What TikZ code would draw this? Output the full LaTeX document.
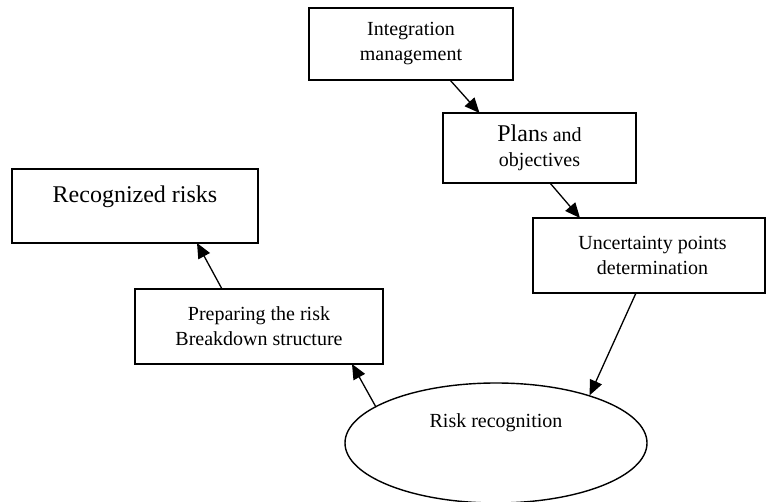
\documentclass[tikz,border=0pt]{standalone}
\usepackage{fontspec}
\setmainfont{Liberation Serif}
\usetikzlibrary{arrows.meta,shapes.geometric}
\begin{document}
\begin{tikzpicture}[x=1pt,y=-1pt,
  box/.style={draw, line width=1.4pt, rectangle, inner sep=0pt, outer sep=0pt,
    align=center, font=\fontsize{20}{25}\selectfont},
  txt/.style={inner sep=0pt, font=\fontsize{20}{25}\selectfont},
  flow/.style={-{Triangle[length=15pt,width=13pt]}, line width=1.3pt},
]
\useasboundingbox (0,0) rectangle (766,502);

% process steps
\node[box, minimum width=204pt, minimum height=72pt] (integ) at (411,44)
  {Integration\\management};
\node[box, minimum width=193pt, minimum height=70pt] (plans) at (539.5,148)
  {{\fontsize{24}{25}\selectfont Plan}s and\\objectives};
\node[box, minimum width=232pt, minimum height=75pt] (uncert) at (649,255.5)
  {\hspace*{7pt}Uncertainty points\\\hspace*{7pt}determination};
\node[draw, ellipse, line width=1.4pt, inner sep=0pt,
  minimum width=302pt, minimum height=120pt] (risk) at (496,443) {};
\node[txt] (risktext) at (496,423) {Risk recognition};
\node[box, minimum width=248pt, minimum height=75pt] (prep) at (259,326.5)
  {Preparing the risk\\Breakdown structure};
\node[box, minimum width=246pt, minimum height=74pt] (recog) at (135,206) {};
\node[txt, font=\fontsize{24}{28}\selectfont] (recogtext) at (135,197) {Recognized risks};

% flow of the process
\draw[flow] ([xshift=39pt]integ.south) -- ([xshift=-60pt]plans.north);
\draw[flow] ([xshift=10.5pt]plans.south) -- ([xshift=-69pt]uncert.north);
\draw[flow] ([xshift=-13pt]uncert.south) -- (risk.27.8);
\draw[flow] (risk.163.4) -- ([xshift=93pt]prep.south);
\draw[flow] ([xshift=-37pt]prep.north) -- ([xshift=62pt]recog.south);
\end{tikzpicture}
\end{document}
